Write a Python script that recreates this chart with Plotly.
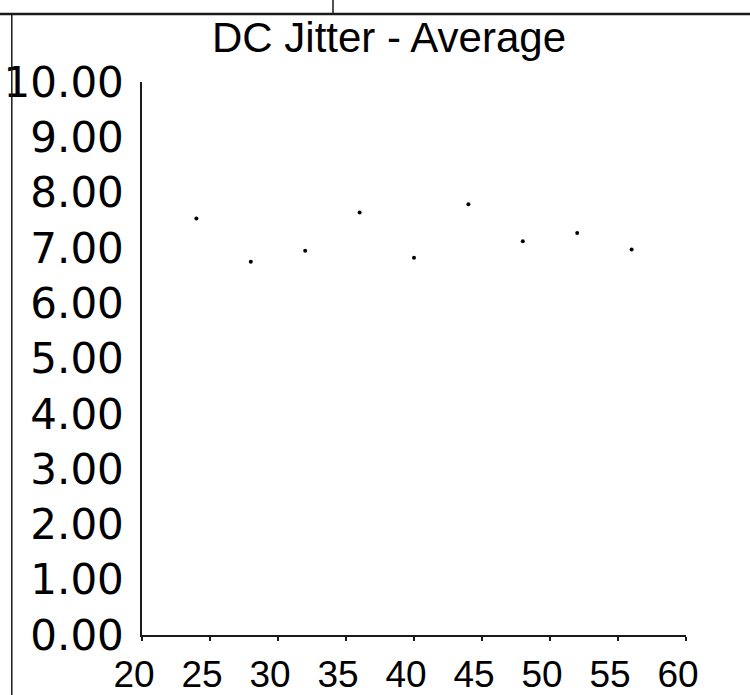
import plotly.graph_objects as go

# Data
x_vals = [24, 28, 32, 36, 40, 44, 48, 52, 56]
y_vals = [7.53, 6.75, 6.95, 7.64, 6.82, 7.79, 7.12, 7.27, 6.97]
y_ticks = [0, 1, 2, 3, 4, 5, 6, 7, 8, 9, 10]
x_ticks = [20, 25, 30, 35, 40, 45, 50, 55, 60]
title_text = "DC Jitter - Average"

W, H = 750, 695
L, R, T, B = 142, 64, 82, 60
PW, PH = W - L - R, H - T - B


def pxx(p):
    return (p - L) / PW


def pxy(p):
    return (H - B - p) / PH


fig = go.Figure()
fig.add_trace(go.Scatter(
    x=x_vals, y=y_vals, mode="markers",
    marker=dict(size=4, color="black", symbol="circle"),
    showlegend=False,
))

line_col = "#1a1a1a"
fig.update_layout(
    width=W, height=H,
    margin=dict(l=L, r=R, t=T, b=B, pad=0, autoexpand=False),
    paper_bgcolor="white", plot_bgcolor="white",
    title=dict(text=title_text, xref="container", yref="container",
               x=389 / W, xanchor="center", y=1 - 37 / H, yanchor="middle",
               automargin=False,
               font=dict(family="Liberation Sans", size=42, color="black")),
    xaxis=dict(range=[20, 60], tickvals=x_ticks, ticktext=[str(v) for v in x_ticks],
               automargin=False,
               showgrid=False, zeroline=False, showline=True, linecolor=line_col,
               linewidth=2, ticks="outside", ticklen=4, tickwidth=1.5, tickcolor=line_col,
               tickfont=dict(family="Liberation Sans", size=37, color="black"),
               ticklabelshift=-8, ticklabelstandoff=2),
    yaxis=dict(range=[0, 10], tickvals=y_ticks, ticktext=[f"{v:.2f}" for v in y_ticks],
               automargin=False,
               showgrid=False, zeroline=False, showline=True, linecolor=line_col,
               linewidth=1.5, ticks="",
               tickfont=dict(family="DejaVu Sans", size=42, color="black"),
               ticklabelstandoff=8),
    shapes=[
        dict(type="line", xref="paper", yref="paper", x0=pxx(0), x1=pxx(W),
             y0=pxy(14), y1=pxy(14), line=dict(color=line_col, width=2.5)),
        dict(type="line", xref="paper", yref="paper", x0=pxx(11.8), x1=pxx(11.8),
             y0=pxy(14), y1=pxy(H + 5), line=dict(color=line_col, width=1.5)),
        dict(type="line", xref="paper", yref="paper", x0=pxx(333), x1=pxx(333),
             y0=pxy(-5), y1=pxy(14), line=dict(color=line_col, width=1.5)),
    ],
)

fig.write_html("out.html", config={"displayModeBar": False},
               post_script="document.body.style.margin='0';")
